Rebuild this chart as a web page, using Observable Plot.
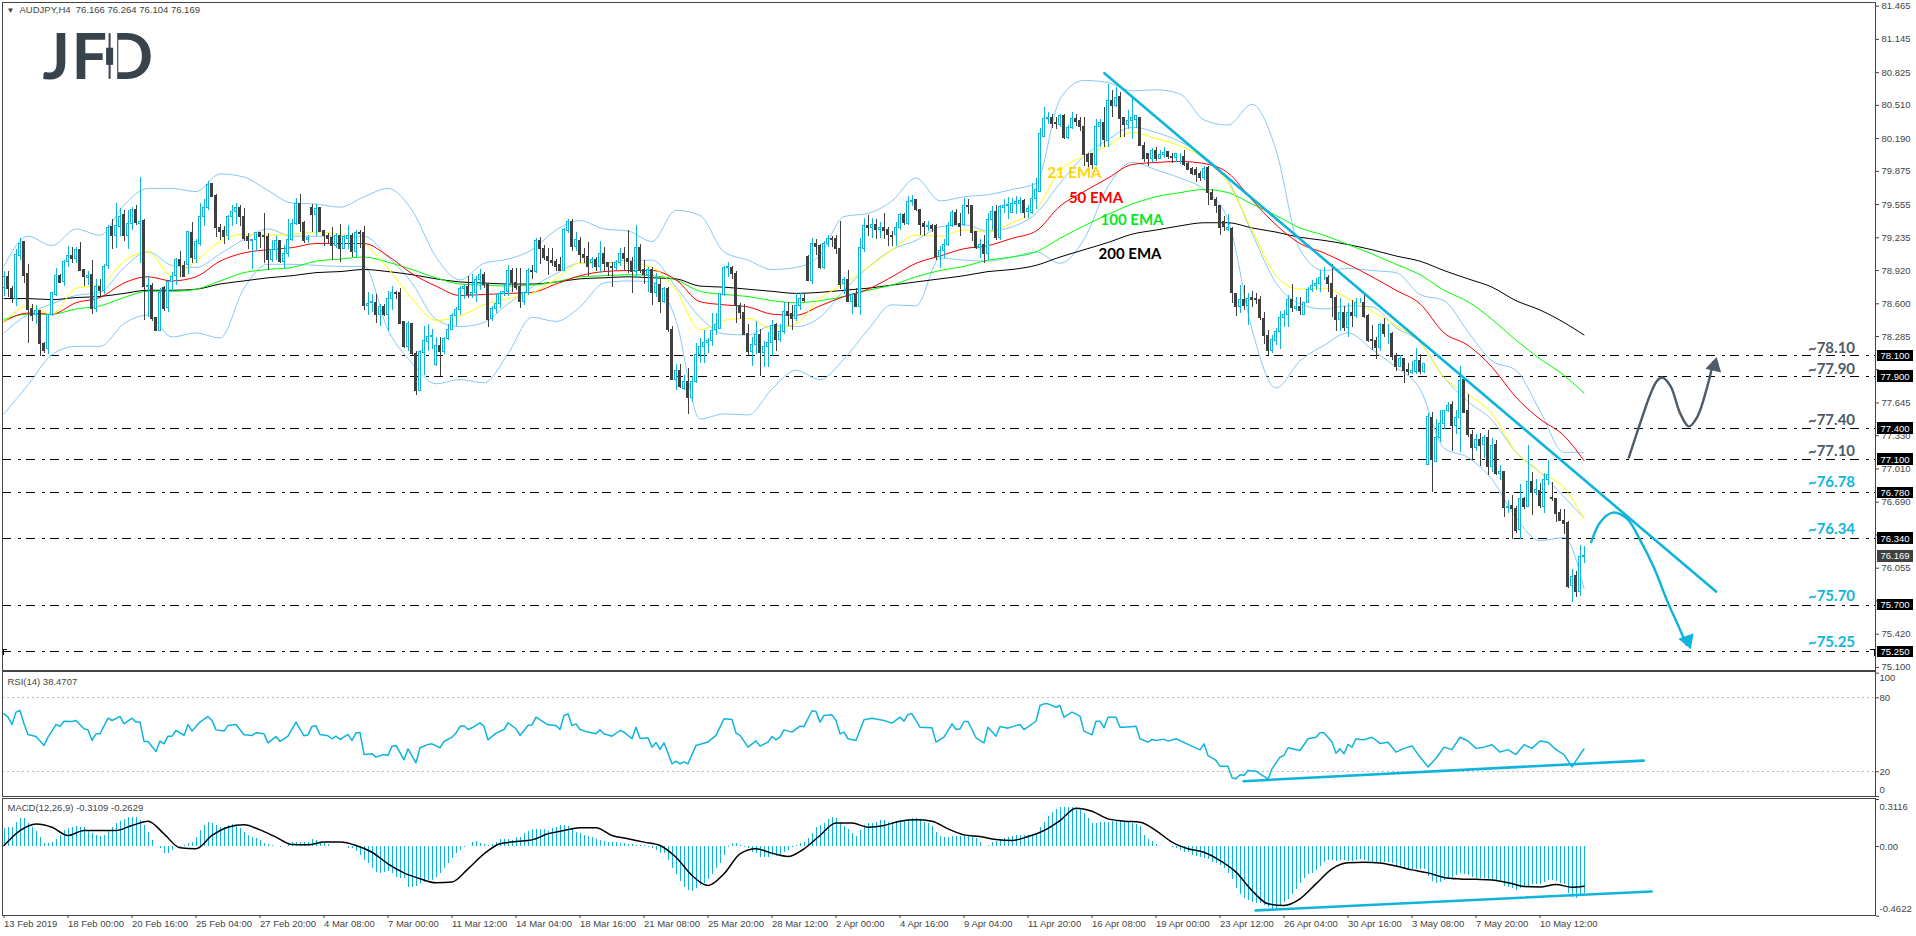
<!DOCTYPE html>
<html><head><meta charset="utf-8">
<script src="https://cdn.jsdelivr.net/npm/d3@7"></script>
<script src="https://cdn.jsdelivr.net/npm/@observablehq/plot@0.6"></script>
<style>html,body{margin:0;padding:0;background:#fff}svg{display:block;overflow:visible}#c{width:1916px}</style>
</head><body><div id="c"></div>
<script>
// prices in pips (1/100 yen), one line = 20 four-hour bars
const opens=[
7875,7886,7874,7865,7906,7919,7889,7855,7849,7853,7821,7816,7849,7868,7887,7881,7900,7906,7903,7912,
7893,7885,7888,7855,7876,7872,7896,7934,7925,7934,7945,7925,7937,7950,7937,7940,7876,7877,7846,7834,
7875,7856,7881,7887,7902,7896,7897,7928,7903,7918,7944,7952,7975,7964,7933,7930,7925,7944,7948,7952,
7944,7924,7920,7921,7928,7925,7924,7902,7912,7920,7900,7908,7921,7937,7956,7938,7921,7952,7945,7952,
7930,7925,7923,7916,7925,7913,7922,7925,7910,7928,7928,7858,7861,7861,7849,7857,7849,7865,7870,7870,
7842,7818,7841,7812,7776,7813,7823,7828,7801,7819,7814,7826,7835,7848,7854,7874,7876,7868,7870,7883,
7888,7878,7845,7855,7860,7869,7871,7892,7880,7876,7862,7870,7892,7891,7920,7913,7905,7901,7900,7897,
7892,7930,7939,7915,7920,7907,7905,7899,7902,7895,7908,7899,7895,7894,7899,7908,7903,7900,7891,7914,
7893,7888,7893,7870,7878,7862,7874,7835,7787,7795,7778,7785,7769,7785,7811,7818,7822,7824,7835,7836,
7868,7894,7894,7889,7858,7851,7831,7814,7820,7830,7813,7818,7822,7840,7825,7833,7852,7850,7845,7858,
7865,7905,7882,7918,7916,7894,7918,7922,7922,7913,7879,7883,7862,7868,7857,7913,7935,7933,7936,7931,
7933,7931,7925,7926,7933,7945,7937,7958,7960,7950,7937,7934,7935,7935,7905,7911,7917,7935,7947,7937,
7936,7954,7954,7929,7914,7917,7908,7941,7948,7923,7952,7954,7947,7956,7956,7959,7948,7947,7961,7968,
8021,8038,8039,8034,8032,8041,8020,8029,8038,8036,8030,8003,8004,7994,8030,8034,8017,8055,8050,8059,
8039,8032,8036,8037,8039,8012,8004,7999,8007,7999,8003,8006,8001,8000,8001,8001,7995,7990,7989,7985,
7981,7991,7967,7960,7954,7939,7931,7932,7869,7857,7864,7858,7866,7865,7864,7845,7829,7815,7824,7833,
7846,7849,7864,7855,7857,7849,7861,7873,7877,7879,7885,7885,7879,7866,7844,7851,7837,7851,7848,7861,
7861,7848,7825,7824,7817,7840,7831,7831,7810,7799,7807,7796,7793,7794,7805,7794,7705,7750,7708,7731,
7744,7757,7763,7742,7750,7787,7757,7734,7721,7729,7724,7731,7703,7724,7696,7698,7663,7665,7662,7642,
7672,7664,7688,7678,7680,7664,7690,7673,7672,7659,7651,7649,7588,7598,7583,7616.6];
const closes=[
7886,7874,7866,7907,7918,7887,7854,7848,7853,7821,7815,7849,7870,7887,7880,7900,7906,7903,7912,7892,
7886,7887,7855,7876,7872,7895,7933,7925,7935,7944,7925,7937,7950,7938,7939,7876,7877,7845,7834,7870,
7855,7881,7886,7902,7896,7886,7929,7904,7919,7944,7952,7974,7963,7933,7929,7924,7944,7948,7952,7944,
7922,7920,7921,7928,7924,7924,7902,7912,7920,7900,7908,7921,7937,7956,7937,7920,7923,7945,7951,7929,
7925,7922,7916,7925,7913,7924,7925,7910,7928,7927,7858,7860,7862,7849,7857,7849,7865,7870,7869,7841,
7818,7841,7812,7776,7814,7824,7828,7829,7819,7814,7826,7835,7848,7854,7874,7876,7868,7870,7883,7888,
7878,7844,7855,7860,7869,7871,7892,7880,7875,7862,7870,7892,7891,7920,7913,7904,7901,7899,7895,7892,
7931,7939,7915,7921,7907,7904,7895,7902,7895,7908,7898,7895,7894,7899,7908,7903,7900,7891,7914,7892,
7888,7893,7870,7879,7862,7874,7835,7787,7795,7780,7785,7769,7785,7811,7818,7822,7824,7834,7840,7869,
7894,7895,7889,7858,7851,7830,7814,7820,7830,7813,7818,7822,7839,7825,7833,7852,7848,7845,7858,7865,
7863,7882,7918,7915,7894,7918,7922,7921,7913,7878,7883,7862,7868,7857,7914,7935,7933,7936,7931,7933,
7930,7926,7924,7933,7945,7938,7958,7959,7950,7936,7934,7935,7932,7905,7911,7917,7935,7947,7936,7934,
7954,7953,7928,7914,7917,7908,7941,7948,7923,7953,7954,7955,7956,7958,7959,7947,7951,7961,7970,8023,
8038,8039,8033,8033,8041,8020,8029,8038,8035,8030,8003,7996,7994,8030,8034,8018,8055,8050,8058,8038,
8032,8036,8039,8041,8012,7999,7999,8007,7999,8003,8005,8001,8000,8004,8001,7994,7989,7985,7984,7981,
7990,7967,7960,7954,7933,7934,7933,7870,7857,7864,7858,7865,7864,7864,7846,7829,7815,7825,7833,7846,
7849,7864,7856,7857,7853,7861,7873,7877,7879,7885,7885,7879,7866,7844,7851,7837,7851,7848,7861,7861,
7847,7824,7824,7817,7840,7831,7831,7809,7799,7807,7795,7794,7795,7805,7794,7802,7751,7710,7731,7744,
7757,7762,7742,7750,7786,7755,7734,7721,7729,7723,7731,7703,7723,7696,7698,7663,7664,7662,7641,7672,
7664,7688,7678,7681,7665,7690,7695,7672,7658,7651,7648,7587,7597,7583,7616,7616.9];
const highs=[
7891,7891,7877,7912,7923,7920,7898,7859,7858,7854,7823,7849,7870,7894,7888,7902,7915,7914,7914,7919,
7893,7891,7902,7883,7883,7898,7935,7941,7957,7952,7950,7950,7953,7955,7982,7941,7886,7880,7847,7875,
7877,7881,7890,7904,7910,7901,7930,7938,7922,7957,7960,7978,7976,7965,7936,7934,7945,7955,7957,7955,
7952,7928,7922,7929,7929,7947,7928,7921,7925,7921,7916,7941,7941,7961,7965,7939,7926,7956,7956,7952,
7931,7928,7933,7928,7936,7926,7935,7928,7931,7931,7934,7871,7869,7869,7859,7859,7872,7877,7872,7875,
7842,7843,7841,7814,7815,7838,7840,7835,7828,7828,7828,7840,7851,7856,7877,7878,7886,7888,7886,7893,
7890,7878,7857,7869,7872,7879,7897,7894,7894,7894,7871,7894,7897,7923,7924,7916,7913,7913,7903,7905,
7932,7941,7941,7929,7924,7913,7919,7905,7905,7920,7914,7900,7900,7902,7913,7914,7931,7905,7935,7917,
7902,7895,7895,7889,7884,7876,7876,7838,7802,7802,7791,7798,7790,7822,7827,7834,7827,7851,7851,7870,
7896,7900,7896,7891,7860,7859,7840,7828,7843,7835,7824,7832,7844,7841,7840,7861,7861,7858,7870,7870,
7870,7906,7923,7922,7917,7920,7926,7925,7926,7939,7885,7892,7870,7875,7923,7942,7945,7942,7941,7938,
7947,7933,7930,7938,7947,7947,7963,7964,7960,7950,7939,7939,7936,7936,7915,7922,7938,7950,7951,7947,
7961,7960,7955,7930,7922,7926,7947,7954,7955,7955,7960,7962,7961,7963,7962,7960,7955,7976,7981,8029,
8049,8044,8042,8039,8042,8042,8032,8044,8042,8039,8039,8005,8005,8037,8037,8049,8071,8065,8068,8063,
8039,8046,8058,8041,8039,8015,8004,8009,8010,8008,8010,8006,8005,8005,8005,8008,7996,7991,7991,7987,
7992,7992,7970,7962,7955,7944,7946,7933,7870,7878,7878,7870,7872,7870,7867,7852,7834,7829,7836,7853,
7854,7868,7879,7866,7866,7861,7876,7882,7884,7892,7895,7887,7898,7868,7865,7857,7860,7863,7865,7865,
7869,7850,7839,7828,7841,7846,7840,7832,7812,7810,7807,7803,7804,7817,7811,7802,7754,7755,7749,7757,
7757,7765,7766,7757,7800,7789,7773,7738,7734,7735,7733,7738,7730,7728,7704,7699,7671,7675,7665,7686,
7674,7724,7698,7691,7687,7697,7709,7688,7673,7662,7662,7650,7604,7602,7627,7626];
const lows=[
7867,7866,7860,7857,7902,7880,7822,7843,7840,7809,7812,7811,7848,7867,7880,7877,7895,7899,7899,7891,
7877,7878,7850,7852,7866,7869,7893,7912,7913,7925,7920,7912,7931,7935,7899,7844,7847,7843,7833,7833,
7853,7852,7872,7878,7885,7885,7888,7899,7899,7915,7934,7950,7962,7924,7921,7917,7921,7934,7936,7934,
7920,7912,7893,7910,7913,7899,7892,7900,7902,7899,7894,7905,7920,7935,7929,7918,7918,7929,7925,7929,
7915,7918,7902,7913,7900,7912,7912,7905,7905,7913,7854,7849,7852,7841,7838,7848,7833,7854,7864,7841,
7817,7814,7810,7772,7776,7791,7814,7816,7800,7790,7811,7825,7834,7838,7849,7864,7865,7865,7861,7873,
7875,7837,7843,7851,7855,7867,7867,7871,7873,7855,7858,7868,7883,7889,7898,7902,7887,7896,7891,7891,
7891,7928,7910,7910,7899,7899,7886,7894,7891,7889,7891,7886,7876,7892,7896,7892,7889,7870,7884,7889,
7879,7871,7858,7866,7851,7860,7832,7786,7777,7778,7777,7753,7765,7783,7803,7803,7812,7819,7829,7835,
7867,7885,7883,7841,7845,7829,7810,7800,7811,7790,7799,7799,7809,7814,7823,7830,7838,7834,7843,7854,
7861,7881,7879,7906,7893,7893,7914,7914,7907,7874,7869,7861,7850,7857,7849,7909,7925,7923,7922,7923,
7922,7915,7915,7915,7931,7935,7935,7954,7949,7926,7925,7930,7929,7902,7894,7904,7915,7933,7935,7925,
7934,7946,7920,7912,7904,7899,7902,7931,7921,7921,7947,7941,7947,7946,7947,7942,7942,7946,7951,7967,
8020,8033,8029,8028,8030,8018,8018,8028,8031,8026,7992,7991,7989,7992,8010,8010,8010,8039,8049,8020,
8020,8028,8018,8029,8011,7996,7992,7996,7997,7999,8000,7999,7995,7996,7994,7992,7988,7983,7977,7978,
7979,7955,7959,7947,7926,7930,7930,7860,7848,7851,7854,7839,7856,7859,7844,7821,7810,7812,7820,7816,
7837,7837,7852,7853,7849,7849,7860,7871,7873,7871,7882,7871,7847,7833,7833,7833,7828,7837,7846,7860,
7846,7823,7815,7806,7814,7828,7821,7805,7795,7799,7783,7791,7792,7792,7792,7793,7704,7678,7707,7726,
7739,7755,7718,7734,7717,7755,7731,7710,7718,7703,7711,7695,7698,7695,7690,7654,7658,7633,7639,7633,
7662,7664,7656,7675,7663,7658,7685,7670,7649,7650,7638,7586,7572,7577,7578,7610];

// sampled lines: one value every 6 bars, then the last bar
const ema200=[7865,7865,7864,7866,7867,7870,7873,7873,7874,7879,7882,7885,7887,7890,7891,7893,7891,7888,7884,7881,
7880,7879,7879,7881,7884,7885,7886,7885,7884,7877,7876,7874,7872,7870,7871,7873,7875,7878,7881,7884,
7887,7891,7893,7897,7905,7912,7919,7927,7931,7935,7938,7938,7933,7929,7924,7921,7917,7912,7906,7901,
7892,7884,7876,7863,7854,7842,7830];
const ema100=[7845,7850,7850,7855,7858,7866,7872,7872,7874,7882,7890,7893,7895,7901,7903,7905,7900,7893,7885,7879,
7878,7877,7878,7881,7886,7887,7888,7887,7883,7872,7869,7867,7863,7861,7863,7867,7873,7878,7886,7892,
7896,7902,7905,7910,7923,7935,7946,7956,7963,7967,7970,7967,7956,7945,7933,7926,7917,7908,7898,7888,
7873,7862,7845,7825,7807,7791,7774];
const ema50=[7843,7851,7850,7861,7866,7880,7886,7882,7886,7901,7909,7912,7914,7918,7918,7918,7906,7889,7877,7868,
7869,7870,7871,7879,7887,7891,7892,7892,7883,7862,7859,7857,7850,7849,7858,7867,7874,7886,7899,7906,
7913,7916,7923,7930,7954,7968,7981,7994,7996,7997,7995,7986,7960,7936,7918,7909,7898,7886,7873,7860,
7832,7820,7799,7770,7749,7733,7709];
const ema21=[7842,7858,7850,7875,7878,7901,7910,7887,7901,7920,7927,7926,7927,7929,7927,7918,7894,7865,7844,7848,
7859,7865,7870,7884,7899,7899,7899,7895,7873,7835,7844,7846,7836,7841,7865,7879,7895,7912,7926,7925,
7931,7929,7938,7951,7988,8002,8012,8025,8019,8012,8000,7976,7931,7887,7874,7875,7865,7853,7839,7823,
7789,7773,7754,7717,7698,7683,7653];
const bandUpper=[7896,7925,7916,7932,7926,7955,7971,7971,7968,7985,7982,7969,7957,7956,7953,7963,7971,7950,7905,7883,
7899,7903,7912,7931,7940,7932,7930,7920,7950,7945,7910,7902,7893,7895,7907,7944,7947,7959,7981,7959,
7963,7965,7970,7976,8057,8075,8073,8065,8066,8062,8037,8032,8052,8008,7912,7892,7894,7892,7890,7869,
7863,7833,7805,7796,7757,7717,7717];
const bandMiddle=[7832,7850,7860,7868,7871,7895,7910,7897,7895,7908,7922,7932,7925,7925,7925,7925,7905,7880,7845,7838,
7842,7860,7876,7889,7899,7899,7902,7902,7876,7847,7831,7830,7839,7838,7847,7873,7895,7912,7921,7934,
7936,7930,7934,7947,7976,8002,8018,8030,8025,8016,8002,7979,7928,7880,7860,7855,7858,7857,7837,7823,
7789,7766,7748,7717,7698,7674,7654];
const bandLower=[7754,7782,7811,7819,7819,7841,7849,7828,7832,7827,7875,7898,7898,7897,7896,7896,7835,7803,7783,7787,
7784,7812,7847,7843,7857,7880,7882,7881,7844,7749,7754,7753,7778,7796,7787,7807,7835,7859,7858,7904,
7902,7901,7905,7910,7899,7922,7973,7996,7989,7981,7970,7941,7835,7779,7805,7820,7832,7816,7799,7778,
7721,7712,7691,7654,7632,7635,7586];

// RSI read at its turning points
const rsiBars=[0,1,2,3,4,5,6,8,10,11,12,13,14,15,17,18,20,21,22,23,24,26,27,29,30,32,33,34,35,36,38,39,40,41,42,43,45,46,47,49,
51,52,53,55,56,58,60,62,63,65,66,68,69,71,73,75,76,77,78,79,81,82,83,84,86,87,88,89,90,92,93,95,96,97,98,100,101,103,104,106,
107,109,110,112,113,114,115,116,117,119,120,121,123,125,126,128,129,131,132,133,136,138,139,140,141,142,143,144,146,148,149,150,152,154,155,157,158,159,
160,161,162,163,164,165,167,168,169,170,171,173,176,178,180,182,183,184,186,188,189,191,192,193,194,195,197,199,200,202,203,204,205,207,208,209,210,211,213,215,217,220,222,224,225,226,227,229,232,233,235,237,238,239,240,241,243,245,246,248,249,251,254,255,258,259,260,261,263,264,265,267,269,270,272,273,274,275,276,278,279,280,283,284,286,287,288,290,291,293,296,299,300,301,303,304,306,307,308,309,310,311,313,316,317,319,320,321,324,326,328,329,330,332,333,334,335,336,337,338,339,
340,342,344,346,348,350,352,354,356,358,360,362,364,366,368,370,372,374,376,378,380,382,384,386,388,390,392,393,394,395];
const rsiValues=[67,64.3,58.4,68.4,69.7,58.9,50.3,48.6,41.4,48.1,53,58.4,56.8,61,60.8,61.6,54.9,54,45.4,50.8,50.8,63.5,61.6,64.9,58.9,63.5,60.3,60.3,44.6,44.6,36.5,44.9,42.7,48.9,48.9,53.5,49.5,58.4,53,60.3,
64.9,61.6,54,53,57.6,58.4,50,49.5,51.6,50.8,43.5,48.6,44.6,48.9,60.3,49.2,50,56.8,57.3,50.3,49.2,46.8,48.9,46.2,50.3,45.4,51.6,51.9,34,34.6,31.9,34,33.2,40.8,41.4,29.7,38.6,27.3,39.5,42.2,
42.7,39.5,44.6,48.1,51.4,56.8,57.3,54.3,55.7,59.7,56.8,45.9,51.4,54.3,59.7,54.9,49.5,57.6,58.1,64.3,58.1,57.6,54.3,65.7,67,57.6,58.9,54.3,52.2,50.8,54,50.8,48.9,53.5,52.2,46.8,56.2,47.3,
47.3,47.6,40,43.8,38.1,43.5,26.5,28.6,26.5,28.1,26.5,41.4,44.1,49.5,63,62.4,51.4,49.5,40,45.1,40.8,44.1,48.6,45.9,48.1,54,52.2,57,56.8,69.5,68.9,60.3,65.7,66.2,61.6,50.8,52.2,46.8,45.4,62.2,63.5,61.6,59.5,64.3,61.1,66.5,67,56.2,55.7,44.1,48.1,58.9,54.3,54.9,60.8,60.8,47.6,43.5,56.2,48.9,56.8,55.4,58.4,54.3,61,73.8,75.1,75.1,72.4,73.8,64.3,68.4,65.1,53,50,61,61,55.7,64.3,64.3,56.2,56.2,57,46.8,44.1,46.2,45.4,46.5,44.9,46.8,42.2,37.8,42.7,33.2,29.2,24.6,24.6,15.1,14.3,17.6,17,21.1,20.5,14,22.4,31.9,33.2,39.5,37.3,46.8,48.1,51.6,51.6,44.1,35.1,38.6,34.6,42.2,40,46.8,46.2,
46,48,43,44,36,39,41,32,24,31,40,38,48,45,39,40,42,36,38,34,42,39,45,44,38,34,24,29,34,38.47];
// MACD signal: one value every 4 bars (thousandths), then the last bar
const macdSignal=[7,106,150,128,73,106,106,106,139,168,84,-9,-15,73,128,144,110,62,13,11,
29,29,7,-38,-115,-175,-214,-241,-236,-148,-49,18,33,44,84,106,124,124,73,51,
29,7,-71,-192,-259,-181,-49,-15,-44,-66,-15,73,155,155,128,139,168,177,168,117,
77,66,46,40,66,106,172,254,234,183,168,161,106,29,-15,-38,-93,-170,-292,-380,
-391,-347,-248,-148,-108,-105,-110,-130,-155,-175,-205,-215,-218,-222,-240,-265,-268,-252,-270,-263];
// MACD main histogram, thousandths, one value per bar
const macdMain=[117,124,128,161,188,188,150,128,102,62,22,18,24,44,73,106,117,128,135,128,
124,106,84,73,66,73,106,128,150,168,181,190,194,194,172,139,95,40,0,-15,
-49,-44,-27,-9,-4,7,18,29,62,106,139,157,150,139,128,124,139,146,139,117,
95,73,62,51,40,22,13,7,2,-4,0,18,29,29,29,29,29,44,40,29,
18,13,0,0,0,0,-13,-15,-31,-60,-93,-115,-148,-170,-181,-175,-164,-181,-203,-214,
-214,-270,-270,-265,-248,-236,-225,-225,-203,-181,-148,-115,-82,-49,-27,-9,0,29,33,22,
13,7,13,29,44,44,44,40,57,62,84,102,110,110,110,110,102,117,128,139,
139,133,110,95,84,73,66,62,46,40,33,29,29,29,22,18,13,11,9,7,
7,-4,-11,-27,-49,-49,-93,-148,-188,-230,-270,-292,-296,-281,-259,-248,-221,-188,-148,-115,
-60,-9,18,22,7,-4,-15,-38,-49,-75,-75,-71,-62,-64,-60,-38,-27,-9,7,18,
29,51,84,128,139,150,177,190,183,150,135,115,88,66,106,139,150,152,161,172,
172,161,161,166,170,172,177,183,183,177,161,150,133,95,66,57,62,66,66,66,
71,69,62,51,29,0,7,24,35,44,51,62,66,73,73,73,73,73,84,124,
161,199,228,248,261,261,261,261,254,243,221,183,155,152,157,161,161,166,172,172,
168,159,155,148,133,73,46,31,13,2,0,-2,-9,-15,-29,-38,-40,-60,-66,-71,
-77,-88,-104,-115,-128,-148,-177,-221,-281,-318,-343,-360,-369,-376,-380,-389,-402,-418,-420,-398,
-369,-349,-318,-287,-248,-212,-188,-181,-159,-130,-104,-93,-95,-97,-93,-93,-97,-102,-95,-88,
-95,-98,-105,-112,-108,-105,-104,-115,-130,-135,-145,-150,-152,-150,-152,-150,-200,-235,-245,-240,
-225,-210,-205,-195,-180,-185,-195,-205,-210,-215,-215,-225,-225,-235,-240,-265,-275,-280,-290,-280,
-275,-265,-255,-250,-250,-240,-225,-225,-235,-245,-250,-310,-335,-345,-325,-311];

const priceTicks=[81.465,81.145,80.825,80.510,80.190,79.875,79.555,79.235,78.920,78.600,78.285,77.965,77.645,77.330,77.010,76.690,76.375,76.055,75.740,75.420,75.100];
const coveredTicks=[77.965,76.375,75.740];
const levelValues=[78.10,77.90,77.40,77.10,76.78,76.34,75.70,75.25];
const levelNames=["~78.10","~77.90","~77.40","~77.10","~76.78","~76.34","~75.70","~75.25"];
const levelLabelPrices=[78.17,77.968,77.477,77.18,76.88,76.428,75.783,75.34];
const levelColors=["#4f5b66","#4f5b66","#4f5b66","#4f5b66","#12b5dc","#12b5dc","#12b5dc","#12b5dc"];
const lastPrice=76.169;
const timeLabels=["13 Feb 2019","18 Feb 00:00","20 Feb 16:00","25 Feb 04:00","27 Feb 20:00","4 Mar 08:00","7 Mar 00:00","11 Mar 12:00","14 Mar 04:00","18 Mar 16:00","21 Mar 08:00","25 Mar 20:00","28 Mar 12:00","2 Apr 00:00","4 Apr 16:00","9 Apr 04:00","11 Apr 20:00","16 Apr 08:00","19 Apr 00:00","23 Apr 12:00","26 Apr 04:00","30 Apr 16:00","3 May 08:00","7 May 20:00","10 May 12:00"];
const emaNames=["21 EMA","50 EMA","100 EMA","200 EMA"];
const emaColors=["#ffd500","#ff0000","#00e81f","#000000"];
const emaLabelBars=[267.6,273,282,281.5];
const emaLabelPrices=[79.858,79.617,79.40,79.075];
// drawn trend lines and forecast paths as (bar, price)
const trendBars=[275.1,428.0], trendPrices=[80.82,75.83];
const upBars=[406.2,408.7,411.6,413.3,414.5,416.6,419.1,421.2,423.3,425.8,427.3];
const upPrices=[77.12,77.41,77.73,77.86,77.89,77.81,77.54,77.42,77.51,77.80,78.04];
const downBars=[396.8,399.1,402.2,405.8,409.1,412.5,415.8,418.7,420.6];
const downPrices=[76.305,76.50,76.59,76.53,76.32,76.06,75.74,75.49,75.32];
const rsiTrendBars=[309.9,409.9], rsiTrendValues=[12.4,29.1];
const macdTrendBars=[312.9,411.9], macdTrendValues=[-0.424,-0.298];
const logoLetters=["J","F","D"], logoOffsets=[40,69,102];
const logoBar=26.8, logoRange=[80.76,81.20], logoBody=[80.895,81.06];
const anchorBarsLeft=[-0.3,-0.3,0.7], anchorBarsRight=[466.7,467.75,467.75], anchorPrices=[75.27,75.27,75.22];

const BLUE="#0fb4dc",DARK="#404040",BAND="#87cbf7",AXIS="#444";
const barCount=opens.length;
const candles=d3.range(barCount).map(i=>({i,o:opens[i]/100,c:closes[i]/100,h:highs[i]/100,l:lows[i]/100}));
const up=candles.filter(d=>d.c>=d.o), down=candles.filter(d=>d.c<d.o);
const knots6=[...d3.range(0,396,6),395], knots4=[...d3.range(0,396,4),395];
const xDomain=[-0.375,467.875];
const tickBars=d3.range(0,400,16);
const series=(vals,k,f=1)=>vals.map((v,j)=>({i:k[j],v:v*f}));
const pts=(xs,ys)=>xs.map((x,j)=>({x,y:ys[j]}));
const font={fontFamily:"'Liberation Sans',Arial,sans-serif",fontSize:"9.5px",color:AXIS,background:"transparent"};
const crisp={shapeRendering:"crispEdges"};
const pxline=(vals,color,w=1)=>Plot.line(series(vals,knots6,0.01),{x:"i",y:"v",stroke:color,strokeWidth:w,curve:"monotone-x"});
const big={fontFamily:"Lato,sans-serif",fontWeight:700,fontSize:15};
const tagRect=(vals,color)=>Plot.rect(vals,{x1:xDomain[1]+0.5,x2:xDomain[1]+9.5,y1:d=>d-0.055,y2:d=>d+0.055,fill:color,...crisp});
const tagText=(vals)=>Plot.text(vals,{frameAnchor:"right",dx:5,y:d=>d,text:d3.format(".3f"),textAnchor:"start",fill:"#fff"});

const main=Plot.plot({
  width:1916,height:670,marginLeft:2,marginRight:41,marginTop:2,marginBottom:0.5,style:font,
  x:{domain:xDomain,axis:null},y:{domain:[75.075,81.50]},
  marks:[
    logoLetters.map((l,j)=>Plot.text([l],{frameAnchor:"top-left",dx:logoOffsets[j],dy:31,text:d=>d,textAnchor:"start",fontFamily:"Lato,sans-serif",fontWeight:700,fontSize:64,fill:"#39434e"})),
    Plot.ruleX([logoBar],{y1:logoRange[0]-0.02,y2:logoRange[1]+0.02,stroke:"#fff",strokeWidth:12}),
    Plot.ruleX([logoBar-0.4],{y1:logoRange[0],y2:logoRange[1],stroke:"#39434e",strokeWidth:2}),
    Plot.ruleX([logoBar-0.4],{y1:logoBody[0],y2:logoBody[1],stroke:"#39434e",strokeWidth:7}),
    Plot.ruleY(levelValues,{stroke:"#000",strokeDasharray:"9 7 3 5",...crisp}),
    Plot.line(pts(anchorBarsLeft,anchorPrices.slice().reverse()),{x:"x",y:"y",stroke:"#000",...crisp}),
    Plot.line(pts(anchorBarsRight,anchorPrices),{x:"x",y:"y",stroke:"#000",...crisp}),
    pxline(bandUpper,BAND),pxline(bandMiddle,BAND),pxline(bandLower,BAND),
    pxline(ema200,"#000"),pxline(ema100,"#00ff00"),pxline(ema50,"#ff0000"),pxline(ema21,"#ffff00"),
    Plot.ruleX(down,{x:"i",y1:"l",y2:"h",stroke:DARK,...crisp}),
    Plot.ruleX(up,{x:"i",y1:"l",y2:"h",stroke:BLUE,...crisp}),
    Plot.rect(down,{x1:d=>d.i-0.25,x2:d=>d.i+0.25,y1:d=>Math.min(d.o,d.c),y2:d=>Math.max(d.o,d.c),fill:DARK,stroke:DARK,...crisp}),
    Plot.rect(up,{x1:d=>d.i-0.25,x2:d=>d.i+0.25,y1:d=>Math.min(d.o,d.c),y2:d=>Math.max(d.o,d.c),fill:"#fff",stroke:BLUE,...crisp}),
    Plot.line(pts(trendBars,trendPrices),{x:"x",y:"y",stroke:BLUE,strokeWidth:2.6}),
    Plot.line(pts(upBars,upPrices),{x:"x",y:"y",stroke:"#4f5b66",strokeWidth:2.4,curve:"catmull-rom"}),
    Plot.dot([{x:427.6,y:78.00}],{x:"x",y:"y",symbol:"triangle",r:6,fill:"#4f5b66",rotate:14}),
    Plot.line(pts(downBars,downPrices),{x:"x",y:"y",stroke:BLUE,strokeWidth:2.4,curve:"catmull-rom"}),
    Plot.dot([{x:420.9,y:75.36}],{x:"x",y:"y",symbol:"triangle",r:6,fill:BLUE,rotate:160}),
    Plot.text(emaNames,{x:(d,j)=>emaLabelBars[j],y:(d,j)=>emaLabelPrices[j],text:d=>d,fill:(d,j)=>emaColors[j],...big}),
    Plot.text(levelNames,{frameAnchor:"right",dx:-44,y:(d,j)=>levelLabelPrices[j],text:d=>d,textAnchor:"middle",fill:(d,j)=>levelColors[j],...big}),
    Plot.frame({stroke:AXIS,...crisp}),
    Plot.axisY({anchor:"right",ticks:priceTicks,tickFormat:d=>coveredTicks.includes(d)?"":d3.format(".3f")(d),tickSize:3,tickPadding:3,label:null,stroke:AXIS}),
    tagRect(levelValues,"#000"),tagRect([lastPrice],DARK),
    tagText(levelValues),tagText([lastPrice]),
    Plot.text(["▼"],{frameAnchor:"top-left",dx:4,dy:5,text:d=>d,fontSize:8,fill:AXIS,lineAnchor:"top"}),
    Plot.text(["AUDJPY,H4  76.166 76.264 76.104 76.169"],{frameAnchor:"top-left",dx:17,dy:4,text:d=>d,fill:AXIS,lineAnchor:"top",textAnchor:"start"})
  ]
});
const rsi=Plot.plot({
  width:1916,height:128,marginLeft:2,marginRight:41,marginTop:1.3,marginBottom:1.7,style:font,
  x:{domain:xDomain,axis:null},y:{domain:[-0.27,101.1]},
  marks:[
    Plot.ruleY([80,20],{stroke:"#bbb",strokeDasharray:"2 3",...crisp}),
    Plot.line(series(rsiValues,rsiBars),{x:"i",y:"v",stroke:BLUE}),
    Plot.line(pts(rsiTrendBars,rsiTrendValues),{x:"x",y:"y",stroke:BLUE,strokeWidth:2.6}),
    Plot.frame({stroke:AXIS,...crisp}),
    Plot.axisY({anchor:"right",ticks:[100,80,20,0],tickFormat:()=>"",tickSize:3,label:null,stroke:AXIS}),
    Plot.text([80,20],{frameAnchor:"right",dx:4,y:d=>d,text:d=>d,textAnchor:"start"}),
    Plot.text([100],{frameAnchor:"right",dx:4,y:d=>d,dy:5,text:d=>d,textAnchor:"start"}),
    Plot.text([0],{frameAnchor:"right",dx:4,y:d=>d,dy:-7,text:d=>d,textAnchor:"start"}),
    Plot.text(["RSI(14) 38.4707"],{frameAnchor:"top-left",dx:5,dy:6,text:d=>d,fill:AXIS,lineAnchor:"top"})
  ]
});
const macd=Plot.plot({
  width:1916,height:138,marginLeft:2,marginRight:41,marginTop:0.3,marginBottom:21,style:font,
  x:{domain:xDomain},y:{domain:[-0.4576,0.3163]},
  marks:[
    Plot.ruleX(macdMain.map((v,i)=>({i,v:v/1000})),{x:"i",y1:0,y2:"v",stroke:BLUE,...crisp}),
    Plot.line(series(macdSignal,knots4,0.001),{x:"i",y:"v",stroke:"#000",curve:"monotone-x"}),
    Plot.line(pts(macdTrendBars,macdTrendValues),{x:"x",y:"y",stroke:BLUE,strokeWidth:2.6}),
    Plot.frame({stroke:AXIS,...crisp}),
    Plot.axisX({ticks:tickBars,tickFormat:(d,j)=>timeLabels[j],tickSize:3,tickPadding:2,textAnchor:"start",label:null,stroke:AXIS}),
    Plot.axisY({anchor:"right",ticks:[0.3116,0,-0.4622],tickFormat:()=>"",tickSize:3,label:null,stroke:AXIS}),
    Plot.text([0],{frameAnchor:"right",dx:4,y:d=>d,text:()=>"0.00",textAnchor:"start"}),
    Plot.text([0.3116],{frameAnchor:"right",dx:4,y:d=>d,dy:7,text:d=>d.toFixed(4),textAnchor:"start"}),
    Plot.text([-0.4622],{frameAnchor:"right",dx:4,y:d=>d,dy:-7,text:d=>d.toFixed(4),textAnchor:"start"}),
    Plot.text(["MACD(12,26,9) -0.3109 -0.2629"],{frameAnchor:"top-left",dx:5,dy:5,text:d=>d,fill:AXIS,lineAnchor:"top"})
  ]
});
document.getElementById("c").append(main,rsi,macd);
</script></body></html>
